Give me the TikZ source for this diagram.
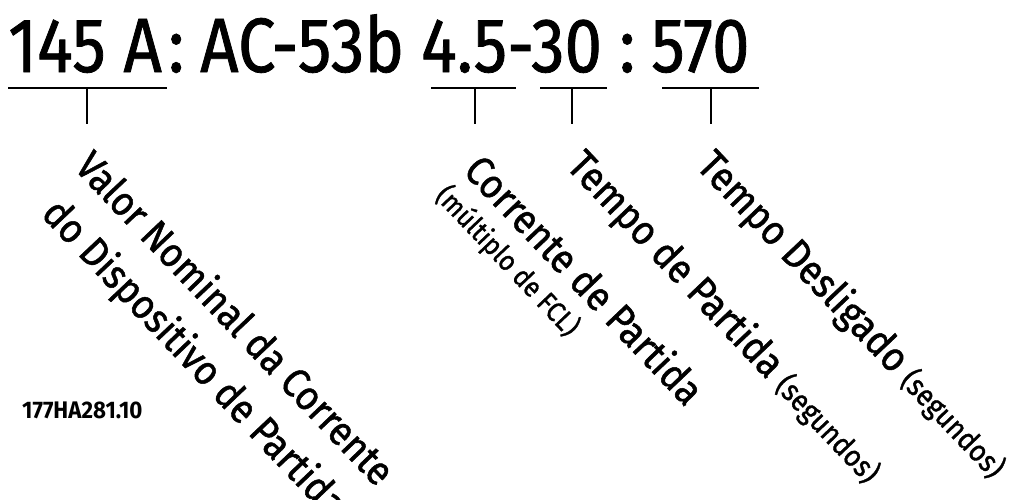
\documentclass[tikz,border=0pt]{standalone}
\usepackage{fontspec}
\newfontfamily\din{Fira Sans}[FakeStretch=0.87,FakeBold=1]
\newfontfamily\dinl{Fira Sans}[FakeStretch=0.9,FakeBold=1.2]
\newfontfamily\dincode{Fira Sans}[FakeStretch=0.93]
\begin{document}
\begin{tikzpicture}[x=1pt,y=-1pt,
  ttl/.style={anchor=base west,inner sep=0pt,font=\din\fontsize{77}{77}\selectfont},
  lbl/.style={anchor=base west,inner sep=0pt,rotate=-46.5,font=\dinl\fontsize{41}{41}\selectfont},
  sub/.style={anchor=base west,inner sep=0pt,rotate=-46.5,font=\dinl\fontsize{28}{28}\selectfont},
  bar/.style={line width=2.2pt}]
\useasboundingbox (0,0) rectangle (1017,499);
% title
\node[ttl] (t1) at (8,72) {145 A};
\node[ttl] (t2) at (168,72) {:};
\node[ttl] (t3) at (200,72) {AC-53b};
\node[ttl] (t4) at (421,72) {4.5-};
\node[ttl] (t5) at (531,72) {30};
\node[ttl] (t6) at (619,72) {:};
\node[ttl] (t7) at (651,72) {570};
% underlines and ticks
\coordinate (a1) at (8,88);   \coordinate (a2) at (167,88);
\coordinate (b1) at (431,88); \coordinate (b2) at (516,88);
\coordinate (c1) at (540,88); \coordinate (c2) at (607,88);
\coordinate (d1) at (662,88); \coordinate (d2) at (759,88);
\coordinate (ta) at (87,88);  \coordinate (tae) at (87,124);
\coordinate (tb) at (475,88); \coordinate (tbe) at (475,124);
\coordinate (tc) at (572,88); \coordinate (tce) at (572,124);
\coordinate (td) at (711,88); \coordinate (tde) at (711,124);
\draw[bar] (a1) -- (a2) (ta) -- (tae);
\draw[bar] (b1) -- (b2) (tb) -- (tbe);
\draw[bar] (c1) -- (c2) (tc) -- (tce);
\draw[bar] (d1) -- (d2) (td) -- (tde);
% labels
\node[lbl] (l1a) at (73,168) {Valor Nominal da Corrente};
\node[lbl] (l1b) at (40,215) {do Dispositivo de Partida};
\node[lbl] (l2a) at (462,172) {Corrente de Partida};
\node[sub] (l2b) at (434,197) {(múltiplo de FCL)};
\node[lbl] (l3) at (565,167) {Tempo de Partida {\fontsize{30}{30}\selectfont(segundos)}};
\node[lbl] (l4) at (695,167) {Tempo Desligado {\fontsize{30}{30}\selectfont(segundos)}};
% code
\node[anchor=base west,inner sep=0pt,font=\dincode\bfseries\fontsize{24}{24}\selectfont] (code) at (22,418) {177HA281.10};
\end{tikzpicture}
\end{document}
